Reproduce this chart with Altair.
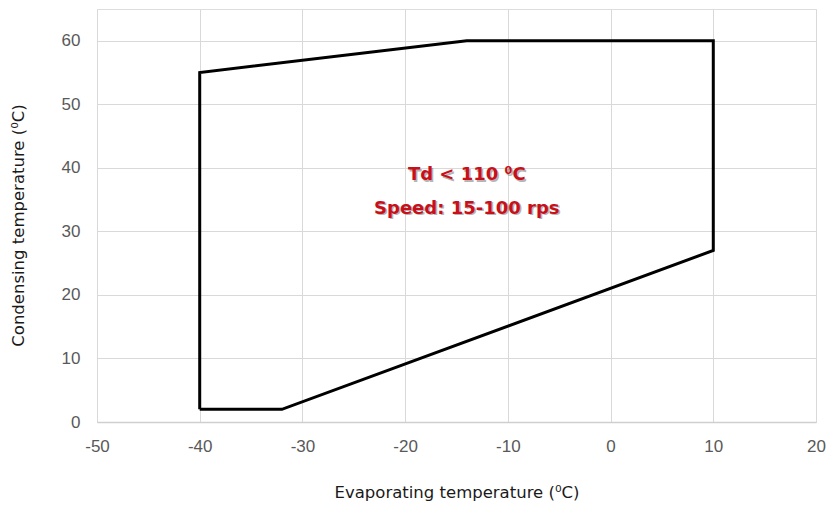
import altair as alt
import pandas as pd

# Operating envelope (polygon vertices, closed)
evap = [-40, -40, -14, 10, 10, -32, -40]
cond = [2, 55, 60, 60, 27, 2, 2]
order = list(range(len(evap)))

x_ticks = [-50, -40, -30, -20, -10, 0, 10, 20]
y_ticks = [0, 10, 20, 30, 40, 50, 60]

labels = ["Td < 110 \u2070C", "Speed: 15-100 rps"]
label_x = [-14.0, -14.0]
label_y = [38.8, 33.6]

poly = pd.DataFrame({"evap": evap, "cond": cond, "order": order})
txt = pd.DataFrame({"label": labels, "x": label_x, "y": label_y})

xs = alt.Scale(domain=[-50, 20], nice=False, zero=False)
ys = alt.Scale(domain=[0, 65], nice=False, zero=False)

hy = "replace(datum.label, '\u2212', '-')"

xaxis = alt.Axis(values=x_ticks, title="Evaporating temperature (\u2070C)",
                 grid=True, gridColor="#d9d9d9", ticks=False,
                 domainColor="#cfcfcf", domainWidth=1.5,
                 labelFont="Liberation Sans", labelFontSize=17, labelColor="#595959",
                 labelPadding=16, labelFlush=False, labelExpr=hy,
                 titleFont="DejaVu Sans", titleFontSize=16.5, titleFontWeight="normal",
                 titleColor="#1a1a1a", titleY=70, titleBaseline="middle")
yaxis = alt.Axis(values=y_ticks, title="Condensing temperature (\u2070C)",
                 grid=True, gridColor="#d9d9d9", ticks=False, domain=False,
                 labelFont="Liberation Sans", labelFontSize=17, labelColor="#595959",
                 labelPadding=17, labelFlush=False, labelExpr=hy,
                 titleFont="DejaVu Sans", titleFontSize=16.5, titleFontWeight="normal",
                 titleColor="#1a1a1a", titleX=-79, titleY=216, titleAngle=270,
                 titleAlign="center", titleBaseline="middle")

line = alt.Chart(poly).mark_line(color="black", strokeWidth=3, strokeJoin="miter").encode(
    x=alt.X("evap:Q", scale=xs, axis=xaxis),
    y=alt.Y("cond:Q", scale=ys, axis=yaxis),
    order="order:O",
)

shadow = alt.Chart(txt).mark_text(
    font="DejaVu Sans", fontSize=18, fontWeight="bold", color="#7a7a7a",
    opacity=0.55, dx=1.5, dy=1.5, align="center", baseline="middle"
).encode(x=alt.X("x:Q", scale=xs), y=alt.Y("y:Q", scale=ys), text="label:N")

text = alt.Chart(txt).mark_text(
    font="DejaVu Sans", fontSize=18, fontWeight="bold", color="#c8101a",
    align="center", baseline="middle"
).encode(x=alt.X("x:Q", scale=xs), y=alt.Y("y:Q", scale=ys), text="label:N")

chart = alt.layer(line, shadow, text).properties(
    width=719, height=413,
    autosize=alt.AutoSizeParams(type="none"),
    padding={"left": 89, "top": 1, "right": 10, "bottom": 82},
).configure_view(stroke=None).configure(background="white")

chart.save("out.html", embed_options={"renderer": "svg", "actions": False})
